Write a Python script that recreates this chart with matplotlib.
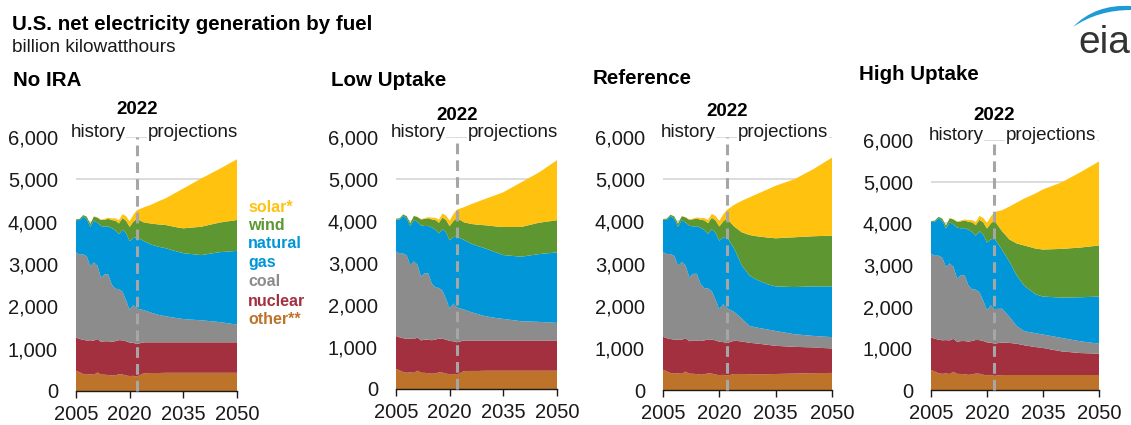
import matplotlib
matplotlib.use('Agg')
import matplotlib.pyplot as plt
from matplotlib.path import Path
from matplotlib.patches import PathPatch

plt.rcParams['font.family'] = ['Liberation Sans', 'DejaVu Sans']

# ---------------- data (billion kWh) ----------------
years_hist = list(range(2005, 2023))
years_proj = [2024, 2026, 2028, 2030, 2033, 2035, 2040, 2045, 2050]

hist_other = [480, 443, 403, 387, 398, 384, 437, 388, 385, 378, 364, 371, 396, 390, 366, 353, 359, 340]
hist_nuclear = [782, 787, 806, 806, 799, 807, 790, 769, 789, 797, 797, 806, 805, 807, 809, 790, 778, 772]
hist_coal = [2013, 1991, 2016, 1986, 1756, 1847, 1733, 1514, 1581, 1582, 1352, 1239, 1206, 1146, 965, 773, 898, 832]
hist_gas = [761, 816, 897, 883, 921, 988, 1014, 1226, 1125, 1127, 1335, 1379, 1296, 1469, 1586, 1624, 1579, 1687]
hist_wind = [18, 27, 34, 55, 74, 95, 120, 141, 168, 182, 191, 227, 254, 273, 295, 338, 380, 435]
hist_solar = [1, 1, 1, 2, 2, 4, 6, 10, 18, 28, 39, 55, 77, 93, 107, 132, 164, 204]

noira_other = [420, 425, 425, 430, 430, 430, 430, 430, 430]
noira_nuclear = [730, 725, 725, 720, 720, 720, 720, 720, 720]
noira_coal = [760, 700, 650, 615, 575, 550, 520, 480, 420]
noira_gas = [1630, 1610, 1610, 1608, 1575, 1555, 1540, 1648, 1740]
noira_wind = [440, 495, 525, 549, 570, 588, 670, 698, 730]
noira_solar = [360, 445, 545, 627, 820, 941, 1140, 1264, 1435]

low_other = [425, 430, 430, 435, 435, 435, 435, 435, 435]
low_nuclear = [730, 725, 725, 720, 720, 720, 720, 720, 720]
low_coal = [735, 675, 625, 577, 535, 514, 459, 443, 420]
low_gas = [1660, 1630, 1620, 1614, 1560, 1520, 1536, 1615, 1677]
low_wind = [420, 470, 510, 552, 620, 669, 708, 747, 764]
low_solar = [360, 470, 555, 630, 750, 827, 1063, 1197, 1433]

ref_other = [380, 380, 375, 375, 375, 380, 390, 400, 405]
ref_nuclear = [790, 770, 745, 727, 695, 667, 634, 608, 579]
ref_coal = [680, 543, 400, 378, 363, 353, 299, 275, 270]
ref_gas = [1496, 1260, 1197, 1134, 1071, 1057, 1118, 1174, 1203]
ref_wind = [528, 787, 960, 1032, 1110, 1141, 1181, 1189, 1204]
ref_solar = [520, 748, 890, 1000, 1150, 1245, 1378, 1590, 1851]

high_other = [360, 360, 360, 360, 360, 360, 360, 360, 360]
high_nuclear = [780, 770, 750, 713, 670, 648, 567, 527, 511]
high_coal = [812, 628, 422, 338, 333, 323, 323, 282, 242]
high_gas = [1419, 1323, 1210, 1089, 935, 911, 968, 1057, 1129]
high_wind = [444, 532, 774, 968, 1097, 1129, 1169, 1193, 1226]
high_solar = [500, 790, 984, 1129, 1323, 1444, 1597, 1807, 2016]

scenario_names = ['No IRA', 'Low Uptake', 'Reference', 'High Uptake']
scenario_proj = [
    (noira_other, noira_nuclear, noira_coal, noira_gas, noira_wind, noira_solar),
    (low_other, low_nuclear, low_coal, low_gas, low_wind, low_solar),
    (ref_other, ref_nuclear, ref_coal, ref_gas, ref_wind, ref_solar),
    (high_other, high_nuclear, high_coal, high_gas, high_wind, high_solar),
]
hist_series = (hist_other, hist_nuclear, hist_coal, hist_gas, hist_wind, hist_solar)

legend_lines = ['solar*', 'wind', 'natural', 'gas', 'coal', 'nuclear', 'other**']
xticks = [2005, 2020, 2035, 2050]
yticks = [0, 1000, 2000, 3000, 4000, 5000, 6000]
divider_year = 2022

# ---------------- style ----------------
c_other = '#BD732A'
c_nuclear = '#A3303F'
c_coal = '#8C8C8C'
c_gas = '#0096D7'
c_wind = '#5E9732'
c_solar = '#FFC20E'
fuel_colors = [c_other, c_nuclear, c_coal, c_gas, c_wind, c_solar]
legend_colors = ['#FFC20E', '#5E9732', '#0096D7', '#0096D7', '#8C8C8C', '#A3303F', '#BD732A']

W, H = 1131, 425
fig = plt.figure(figsize=(W / 100, H / 100), dpi=100)

# left, right, top, bottom in pixels
panel_px = [(76, 237, 137, 391), (396, 557, 137, 389), (663, 832, 137, 390), (931, 1099, 140, 390)]
title_px = [(13, 81), (331, 80), (593, 78), (859, 75)]
label2022_off = [28, 22, 25, 25]

text_color = '#1a1a1a'

years_all = years_hist + years_proj
for i, name in enumerate(scenario_names):
    l, r, t, b = panel_px[i]
    ax = fig.add_axes([l / W, (H - b) / H, (r - l) / W, (b - t) / H])
    series = [h + p for h, p in zip(hist_series, scenario_proj[i])]
    ax.stackplot(years_all, *series, colors=fuel_colors, linewidth=0, zorder=2)
    ax.set_xlim(2005, 2050)
    ax.set_ylim(0, 6000)
    ax.set_xticks(xticks)
    ax.set_yticks(yticks)
    ax.set_yticklabels([f'{v:,}' for v in yticks])
    ax.yaxis.grid(True, color='#d9d9d9', linewidth=1.3, zorder=0)
    ax.set_axisbelow(True)
    for s in ['left', 'top', 'right']:
        ax.spines[s].set_visible(False)
    ax.spines['bottom'].set_color('#1a1a1a')
    ax.spines['bottom'].set_linewidth(1.0)
    ax.spines['bottom'].set_zorder(5)
    ax.tick_params(axis='x', length=5, width=1, color='#1a1a1a', pad=5,
                   labelsize=14.5, labelcolor=text_color)
    ax.tick_params(axis='y', length=0, pad=13, labelsize=14.5, labelcolor=text_color)

    ax.plot([divider_year, divider_year], [0, 6000], color='#a6a6a6', lw=2.2,
            linestyle=(0, (3.5, 2)), zorder=6, clip_on=False)
    ax.annotate('2022', xy=(divider_year, 6000), xytext=(0, label2022_off[i] * 0.72),
                textcoords='offset points', ha='center', va='center',
                fontsize=13.5, fontweight='bold', color='black')
    ax.annotate('history', xy=(divider_year, 6000), xytext=(-8, 3),
                textcoords='offset points', ha='right', va='center',
                fontsize=13.5, color=text_color, zorder=7,
                bbox=dict(facecolor='white', edgecolor='none', pad=0.5))
    ax.annotate('projections', xy=(divider_year, 6000), xytext=(8, 3),
                textcoords='offset points', ha='left', va='center',
                fontsize=13.5, color=text_color, zorder=7,
                bbox=dict(facecolor='white', edgecolor='none', pad=0.5))

    tx, ty = title_px[i]
    fig.text(tx / W, (H - ty) / H, name, ha='left', va='center',
             fontsize=14.8, fontweight='bold', color='black')

    if i == 0:
        leg_y = [208, 226, 244, 263, 282, 301, 320]
        for txt, col, py in zip(legend_lines, legend_colors, leg_y):
            fig.text(248 / W, (H - py) / H, txt, ha='left', va='center',
                     fontsize=11.5, fontweight='bold', color=col)

fig.text(12 / W, (H - 25) / H, 'U.S. net electricity generation by fuel', ha='left',
         va='center', fontsize=14.8, fontweight='bold', color='black')
fig.text(12 / W, (H - 48) / H, 'billion kilowatthours', ha='left', va='center',
         fontsize=13.7, color=text_color)

# eia logo
fig.text(1130 / W, (H - 53) / H, 'eia', ha='right', va='baseline', fontsize=28,
         color='#333333')
def fpx(x, y):
    return (x / W, (H - y) / H)
verts = [fpx(1073, 27), fpx(1095, 4), fpx(1131, 6), fpx(1131, 10),
         fpx(1098, 10), fpx(1073, 27), fpx(1073, 27)]
codes = [Path.MOVETO, Path.CURVE3, Path.CURVE3, Path.LINETO, Path.CURVE3, Path.CURVE3, Path.CLOSEPOLY]
fig.patches.append(PathPatch(Path(verts, codes), transform=fig.transFigure,
                             facecolor='#1E9BD7', edgecolor='none'))

fig.savefig('out.png', dpi=100)
